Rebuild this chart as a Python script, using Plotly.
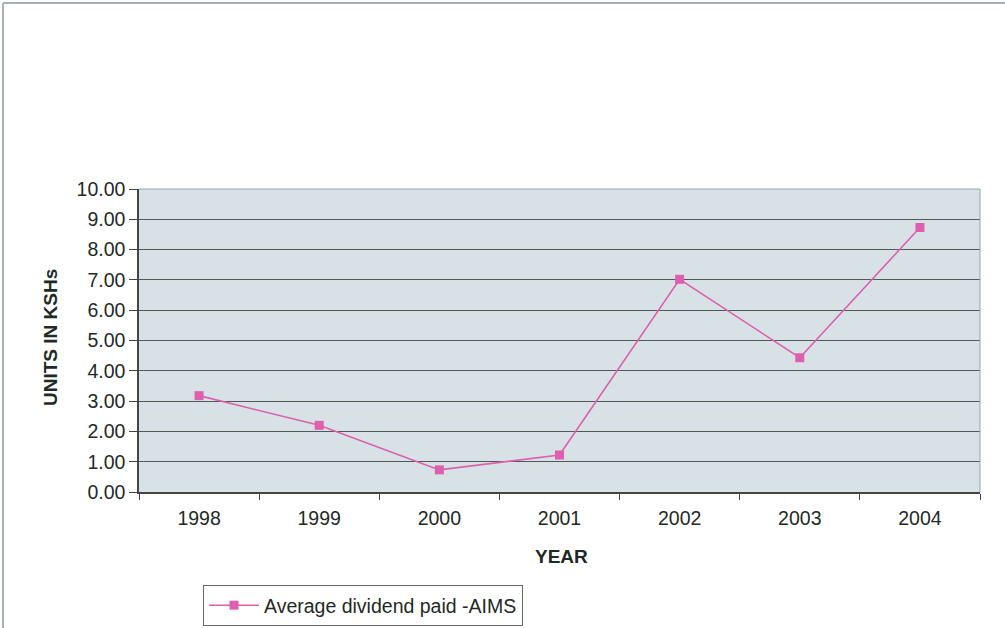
import plotly.graph_objects as go

years = ["1998", "1999", "2000", "2001", "2002", "2003", "2004"]
dividend = [3.18, 2.20, 0.73, 1.22, 7.02, 4.43, 8.73]
y_ticks = [0, 1, 2, 3, 4, 5, 6, 7, 8, 9, 10]
y_tick_labels = ["%.2f" % v for v in y_ticks]
series_name = "Average dividend paid -AIMS"

W, H = 1005, 628
L, R, T, B = 139, 980, 189, 492

pink = "#dd5fae"
font = "Liberation Sans, Arial, sans-serif"
txt = "#1f2a26"

fig = go.Figure()
fig.add_trace(go.Scatter(
    x=years, y=dividend, mode="lines+markers", name=series_name,
    line=dict(color=pink, width=1.6),
    marker=dict(symbol="square", size=9, color=pink),
))

fig.update_layout(
    width=W, height=H,
    margin=dict(l=L, r=W - R, t=T, b=H - B, autoexpand=False),
    paper_bgcolor="white",
    plot_bgcolor="#d8e2e6",
    font=dict(family=font, size=19, color=txt),
    showlegend=True,
    legend=dict(
        x=(203 - L) / (R - L), y=(B - 585) / (B - T),
        xanchor="left", yanchor="top",
        bordercolor="#666", borderwidth=1, bgcolor="white",
        font=dict(size=19.5, color=txt),
        itemwidth=50,
    ),
    xaxis=dict(
        type="category", tickson="boundaries",
        ticks="outside", ticklen=6, tickcolor="#444",
        showline=True, linecolor="#444", linewidth=1.5,
        showgrid=False, range=[-0.5, 6.5],
        tickfont=dict(size=19.5, color=txt),
        ticklabelstandoff=8,
        automargin=False,
    ),
    yaxis=dict(
        range=[0, 10], tickvals=y_ticks, ticktext=y_tick_labels,
        ticks="outside", ticklen=8, tickcolor="#444",
        showline=True, linecolor="#444", linewidth=1.5,
        showgrid=True, gridcolor="#4f5955", gridwidth=1,
        zeroline=False,
        tickfont=dict(size=19.5, color=txt),
        automargin=False,
    ),
    annotations=[
        dict(text="<b>UNITS IN KSHs</b>", xref="paper", yref="paper",
             x=(50 - L) / (R - L), y=(B - 338) / (B - T), textangle=-90,
             showarrow=False, font=dict(size=19, color=txt),
             xanchor="center", yanchor="middle"),
        dict(text="<b>YEAR</b>", xref="paper", yref="paper",
             x=(561 - L) / (R - L), y=(B - 556) / (B - T),
             showarrow=False, font=dict(size=19, color=txt),
             xanchor="center", yanchor="middle"),
    ],
    shapes=[
        dict(type="line", xref="paper", yref="paper", x0=0, x1=1, y0=1, y1=1,
             line=dict(color="#9aa4a8", width=1)),
        dict(type="line", xref="paper", yref="paper", x0=1, x1=1, y0=0, y1=1,
             line=dict(color="#9aa4a8", width=1)),
        dict(type="line", xref="paper", yref="paper",
             x0=(3 - L) / (R - L), x1=(W - L) / (R - L),
             y0=(B - 3) / (B - T), y1=(B - 3) / (B - T),
             line=dict(color="#a6b2b6", width=2)),
        dict(type="line", xref="paper", yref="paper",
             x0=(3 - L) / (R - L), x1=(3 - L) / (R - L),
             y0=(B - 3) / (B - T), y1=(B - H) / (B - T),
             line=dict(color="#a6b2b6", width=2)),
    ],
)

fig.write_html("out.html")
